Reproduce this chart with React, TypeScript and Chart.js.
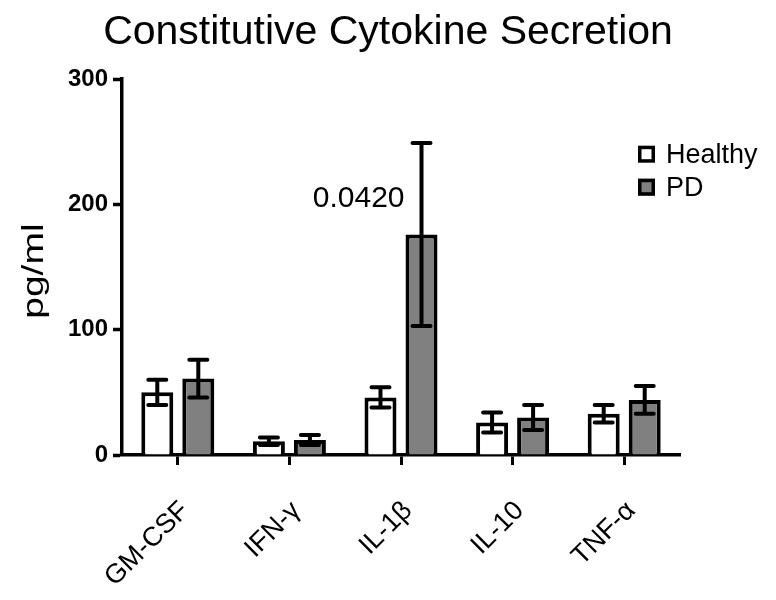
import React, { useEffect, useRef } from "react";
import { Chart, registerables } from "chart.js";

Chart.register(...registerables);

const categories = ["GM-CSF", "IFN-γ", "IL-1β", "IL-10", "TNF-α"];
const seriesNames = ["Healthy", "PD"];
const healthyMeans = [50, 11, 46, 26, 33];
const healthyErrors = [10, 3, 8, 8, 7];
const pdMeans = [61, 12, 176, 30, 44];
const pdErrors = [15, 4, 73, 10, 11];
const seriesColors = ["#ffffff", "#808080"];
const yMin = 0;
const yMax = 300;
const yStep = 100;
const titleText = "Constitutive Cytokine Secretion";
const yAxisTitle = "pg/ml";
const annotationText = "0.0420";
const annotationCategory = 2;
const annotationSeries = 1;
const annotationValue = 204.5;

const FONT = "'Liberation Sans', Arial, Helvetica, sans-serif";

const extrasPlugin = {
  id: "extras",
  afterDatasetsDraw(chart: any) {
    const ctx = chart.ctx;
    const yScale = chart.scales.y;
    ctx.save();
    ctx.strokeStyle = "#000";
    ctx.lineWidth = 4;
    ctx.lineCap = "round";
    chart.data.datasets.forEach((ds: any, di: number) => {
      const meta = chart.getDatasetMeta(di);
      meta.data.forEach((bar: any, i: number) => {
        const v = ds.data[i];
        const e = ds.errors[i];
        const x = bar.x;
        const top = yScale.getPixelForValue(v + e);
        const bot = yScale.getPixelForValue(v - e);
        const cap = 9;
        ctx.beginPath();
        ctx.moveTo(x, top);
        ctx.lineTo(x, bot);
        ctx.moveTo(x - cap, top);
        ctx.lineTo(x + cap, top);
        ctx.moveTo(x - cap, bot);
        ctx.lineTo(x + cap, bot);
        ctx.stroke();
      });
    });
    ctx.restore();
  },
  afterDraw(chart: any) {
    const ctx = chart.ctx;
    const area = chart.chartArea;
    const yScale = chart.scales.y;
    ctx.save();
    // legend
    const boxSize = 17;
    const boxLeft = area.right - 42;
    const firstCenter = area.top + 75;
    const rowGap = 33;
    ctx.font = `27px ${FONT}`;
    ctx.textAlign = "left";
    ctx.textBaseline = "middle";
    chart.data.datasets.forEach((ds: any, di: number) => {
      const cy = firstCenter + di * rowGap;
      ctx.fillStyle = ds.backgroundColor;
      ctx.fillRect(boxLeft, cy - boxSize / 2, boxSize, boxSize);
      ctx.strokeStyle = "#000";
      ctx.lineWidth = 3.5;
      ctx.strokeRect(boxLeft + 1.75, cy - boxSize / 2 + 1.75, boxSize - 3.5, boxSize - 3.5);
      ctx.fillStyle = "#000";
      ctx.fillText(ds.label, boxLeft + boxSize + 11, cy + 1);
    });
    // p-value annotation
    const bar = chart.getDatasetMeta(annotationSeries).data[annotationCategory];
    if (bar) {
      ctx.font = `30px ${FONT}`;
      ctx.textAlign = "right";
      ctx.textBaseline = "middle";
      ctx.fillStyle = "#000";
      ctx.fillText(annotationText, bar.x - bar.width / 2 - 1, yScale.getPixelForValue(annotationValue));
    }
    // y-axis title (wide lettering as in the reference)
    ctx.translate(yScale.left + 43, (area.top + area.bottom) / 2 + 4);
    ctx.rotate(-Math.PI / 2);
    ctx.scale(1.3, 1);
    ctx.font = `30px ${FONT}`;
    ctx.textAlign = "center";
    ctx.textBaseline = "alphabetic";
    ctx.fillStyle = "#000";
    ctx.fillText(yAxisTitle, 0, 0);
    ctx.restore();
  },
};

export default function App() {
  const canvasRef = useRef<HTMLCanvasElement | null>(null);

  useEffect(() => {
    document.body.style.margin = "0";
    const canvas = canvasRef.current;
    if (!canvas) return;
    const chart = new Chart(canvas, {
      type: "bar",
      data: {
        labels: categories,
        datasets: [
          {
            label: seriesNames[0],
            data: healthyMeans,
            errors: healthyErrors,
            backgroundColor: seriesColors[0],
            borderColor: "#000",
            borderWidth: 4,
            borderSkipped: "start",
            yAxisID: "y",
          } as any,
          {
            label: seriesNames[1],
            data: pdMeans,
            errors: pdErrors,
            backgroundColor: seriesColors[1],
            borderColor: "#000",
            borderWidth: 4,
            borderSkipped: "start",
            yAxisID: "y",
          } as any,
        ],
      },
      options: {
        responsive: false,
        animation: false,
        devicePixelRatio: 1,
        categoryPercentage: 0.735,
        barPercentage: 0.78,
        layout: { padding: 0 },
        plugins: {
          legend: { display: false },
          tooltip: { enabled: false },
          title: {
            display: true,
            text: titleText,
            color: "#000",
            font: { family: FONT, size: 41, weight: "normal" },
            padding: { top: 8, bottom: 22 },
          },
        },
        scales: {
          x: {
            offset: true,
            grid: {
              offset: false,
              drawOnChartArea: false,
              drawTicks: true,
              tickLength: 10,
              tickWidth: 3,
              tickColor: "#000",
            },
            border: { display: true, color: "#000", width: 3.5 },
            ticks: {
              color: "#000",
              font: { family: FONT, size: 27 },
              minRotation: 45,
              maxRotation: 45,
              padding: 30,
              labelOffset: 7,
              autoSkip: false,
            },
            afterFit(scale: any) {
              scale.height = 145;
            },
          },
          y: {
            min: yMin,
            max: yMax,
            grid: {
              drawOnChartArea: false,
              drawTicks: true,
              tickLength: 9,
              tickWidth: 3.5,
              tickColor: "#000",
            },
            border: { display: true, color: "#000", width: 3.5 },
            ticks: {
              stepSize: yStep,
              color: "#000",
              padding: 5,
              font: { family: FONT, size: 24, weight: "bold" },
            },
            title: { display: false, text: yAxisTitle },
            afterFit(scale: any) {
              scale.width = 122;
            },
          },
          spacer: {
            type: "linear",
            position: "right",
            min: 0,
            max: 1,
            grid: { display: false, drawTicks: false },
            border: { display: false },
            ticks: { display: false },
            afterFit(scale: any) {
              scale.width = 96;
            },
          },
        },
      },
      plugins: [extrasPlugin],
    } as any);
    return () => chart.destroy();
  }, []);

  return (
    <div style={{ width: 776, height: 600 }}>
      <canvas ref={canvasRef} width={776} height={600} />
    </div>
  );
}
